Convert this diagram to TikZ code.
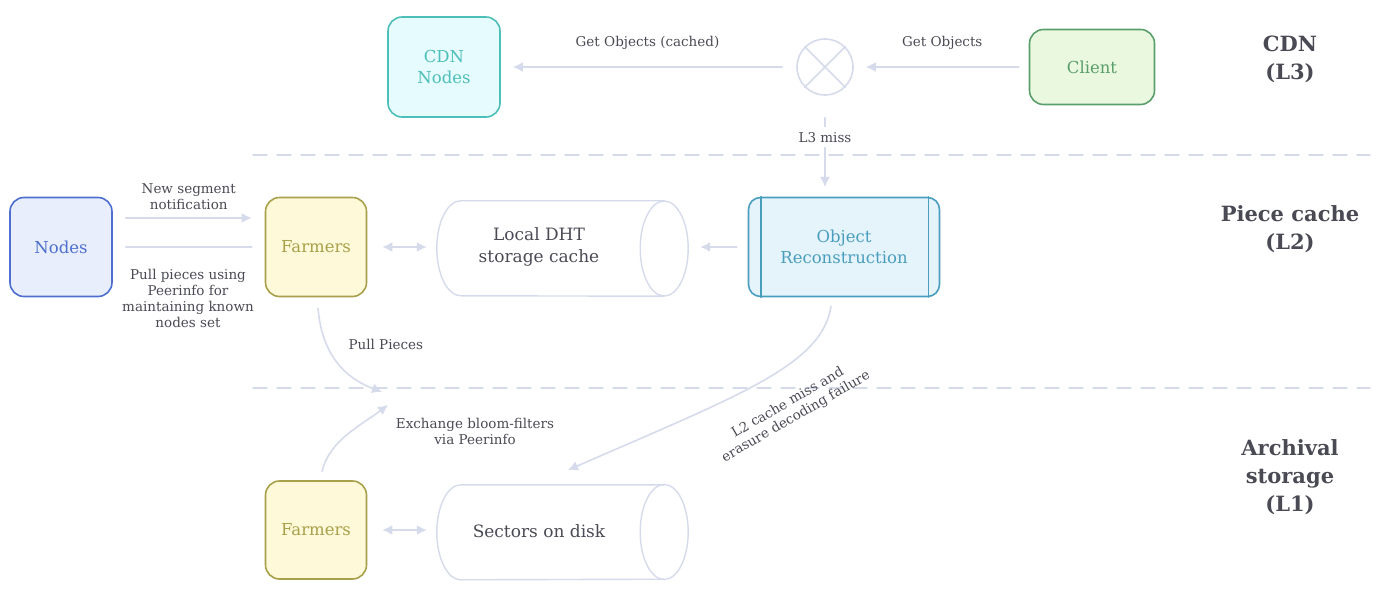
\documentclass[tikz,border=0pt]{standalone}
\usepackage{fontspec}
\setmainfont{DejaVu Serif}
\usetikzlibrary{arrows.meta,shapes.geometric,positioning}

\definecolor{wire}{HTML}{D6DBEC}
\definecolor{ink}{HTML}{4A4A55}
\definecolor{cdnfill}{HTML}{E6FBFD}
\definecolor{cdnline}{HTML}{4DBFBA}
\definecolor{clifill}{HTML}{EBF8E0}
\definecolor{cliline}{HTML}{5A9E6B}
\definecolor{nodfill}{HTML}{E8EEFC}
\definecolor{nodline}{HTML}{4E6FCF}
\definecolor{farfill}{HTML}{FEF9D8}
\definecolor{farline}{HTML}{A8A04A}
\definecolor{objfill}{HTML}{E5F4FB}
\definecolor{objline}{HTML}{4A9EBD}

\tikzset{
  box/.style={draw, line width=1.6pt, rounded corners=14pt, align=center,
    font=\fontsize{16.5}{20.5}\selectfont},
  store/.style={minimum width=251pt, minimum height=95pt, inner sep=0pt},
  storetext/.style={text=ink, align=center, font=\fontsize{17}{22}\selectfont},
  lbl/.style={text=ink, align=center, font=\fontsize{13.5}{16}\selectfont},
  layer/.style={text=ink, align=center, font=\bfseries\fontsize{21}{28}\selectfont},
  arr/.style={draw=wire, line width=1.6pt, -{Latex[length=10pt,width=10pt]}},
  twoway/.style={draw=wire, line width=1.6pt, {Latex[length=10pt,width=10pt]}-{Latex[length=10pt,width=10pt]}},
  sep/.style={draw=wire, line width=1.4pt, dash pattern=on 14pt off 10pt}
}

% horizontal drum: body from west edge to the end cap
\newcommand{\drum}[1]{%
  \draw[wire, line width=1.4pt] ([xshift=-24pt]#1.north east) -- ([xshift=24pt]#1.north west)
    arc[start angle=90, end angle=270, x radius=24pt, y radius=47.5pt]
    -- ([xshift=-24pt]#1.south east);
  \draw[wire, line width=1.4pt] ([xshift=-24pt]#1.east) ellipse [x radius=24pt, y radius=47.5pt];
}

\begin{document}
\begin{tikzpicture}[x=1pt, y=-1pt, line join=round, line cap=round]
  \useasboundingbox (0,0) rectangle (1380,601);

  % L3
  \node[box, draw=cdnline, fill=cdnfill, text=cdnline, minimum width=112pt, minimum height=100pt] (cdn) at (444,67) {CDN\\Nodes};
  \node[draw=wire, line width=1.6pt, circle, minimum size=56pt] (miss) at (825,67) {};
  \draw[wire, line width=1.6pt] (miss.north west) -- (miss.south east);
  \draw[wire, line width=1.6pt] (miss.north east) -- (miss.south west);
  \node[box, draw=cliline, fill=clifill, text=cliline, minimum width=125pt, minimum height=75pt] (client) at (1092,67) {Client};
  \node[layer] (l3) at (1290,59) {CDN\\(L3)};

  \draw[arr] ([xshift=-10pt]client.west) -- ([xshift=12pt]miss.east) node[lbl, midway, above=13pt] (getlbl) {Get Objects};
  \draw[arr] ([xshift=-14pt]miss.west) -- ([xshift=12pt]cdn.east) node[lbl, midway, above=13pt] (cachedlbl) {Get Objects (cached)};

  \draw[sep] (253,155) -- (1370,155);

  % L2
  \node[box, draw=nodline, fill=nodfill, text=nodline, minimum width=102pt, minimum height=99pt] (nodes) at (61,247) {Nodes};
  \node[box, draw=farline, fill=farfill, text=farline, minimum width=101pt, minimum height=99pt] (farmA) at (316,247) {Farmers};
  \node[store] (dht) at (562.5,248.5) {};
  \drum{dht}
  \node[storetext] (dhtlbl) at (539,247) {Local DHT\\storage cache};
  \node[box, draw=objline, fill=objfill, text=objline, rounded corners=12pt, minimum width=191pt, minimum height=99pt] (obj) at (844,247) {Object\\Reconstruction};
  \draw[objline, line width=1.6pt] ([xshift=13pt]obj.north west) -- ([xshift=13pt]obj.south west);
  \draw[objline, line width=1.6pt] ([xshift=-12pt]obj.north east) -- ([xshift=-12pt]obj.south east);
  \node[layer] (l2) at (1290,229) {Piece cache\\(L2)};

  \coordinate (l3end) at (825,187);
  \draw[arr] ([yshift=-22pt]miss.south) -- (l3end) node[lbl, pos=0.28, fill=white, inner sep=5pt] (l3lbl) {L3 miss};
  \coordinate (f1) at ([xshift=-13pt]farmA.west);
  \coordinate (n1) at ([shift={(13pt,29pt)}]nodes.east);
  \coordinate (n2) at ([xshift=13pt]nodes.east);
  \draw[arr] (n1) -- (n1 -| f1) node[lbl, midway, above=4pt] (seglbl) {New segment\\notification};
  \draw[wire, line width=1.6pt] (n2) -- (n2 -| f1);
  \node[lbl, anchor=north] (pulllbl) at (188,266) {Pull pieces using\\Peerinfo for\\maintaining known\\nodes set};
  \coordinate (d1) at ([xshift=-10pt]dht.west);
  \coordinate (d2) at ([xshift=12pt]dht.east);
  \draw[twoway] ([xshift=15pt]farmA.east) -- (farmA.east -| d1);
  \draw[arr] ([xshift=-11pt]obj.west) -- (obj.west -| d2);

  \draw[sep] (253,388) -- (1370,388);

  % L1
  \node[box, draw=farline, fill=farfill, text=farline, minimum width=101pt, minimum height=98pt] (farmB) at (316,530) {Farmers};
  \node[store, minimum height=94pt] (disk) at (562.5,532) {};
  \drum{disk}
  \node[storetext] (disklbl) at (539,531) {Sectors on disk};
  \node[layer] (l1) at (1290,477) {Archival\\storage\\(L1)};
  \coordinate (d3) at ([xshift=-10pt]disk.west);
  \draw[twoway] ([xshift=15pt]farmB.east) -- (farmB.east -| d3);

  % cross-layer flows
  \coordinate (pp) at (382,392);
  \coordinate (bf) at (388,405);
  \coordinate (dk) at (568,470);
  \draw[arr] ([shift={(2pt,-11pt)}]farmA.south) .. controls (322,355) and (345,378) .. (pp);
  \node[lbl, anchor=west] (pplbl) at (345,344) {Pull Pieces};
  \draw[arr] ([shift={(6pt,9pt)}]farmB.north) .. controls (330,440) and (360,426) .. (bf);
  \node[lbl] (bflbl) at (475,431) {Exchange bloom-filters\\via Peerinfo};
  \draw[arr] ([shift={(-13pt,-9pt)}]obj.south) .. controls (822,365) and (740,395) .. (dk);
  \node[lbl, rotate=30] (misslbl) at (792,410) {L2 cache miss and\\erasure decoding failure};
\end{tikzpicture}
\end{document}
